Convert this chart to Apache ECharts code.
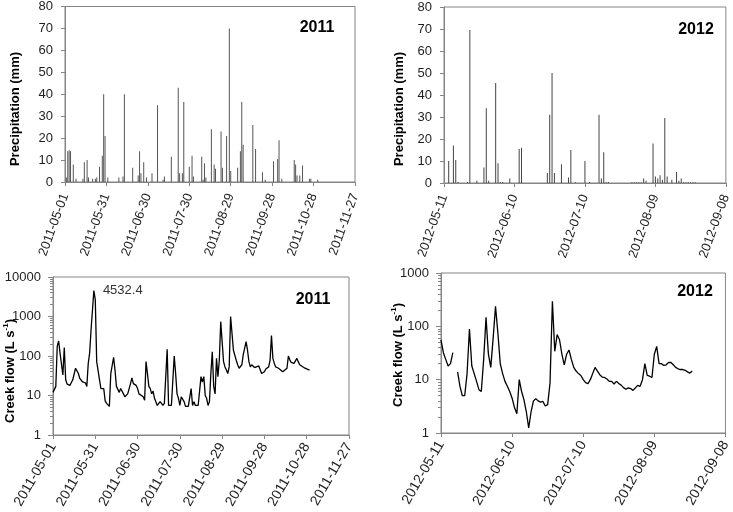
<!DOCTYPE html>
<html><head><meta charset="utf-8">
<script src="https://cdn.jsdelivr.net/npm/echarts@6/dist/echarts.min.js"></script>
<style>html,body{margin:0;padding:0;background:#fff}#c{width:733px;height:512px}</style>
</head><body><div id="c"></div>
<script>
// ---- tick labels ----
const xTicks2011 = ['2011-05-01','2011-05-31','2011-06-30','2011-07-30','2011-08-29','2011-09-28','2011-10-28','2011-11-27'];
const xTicks2012 = ['2012-05-11','2012-06-10','2012-07-10','2012-08-09','2012-09-08'];

// ---- precipitation (days since 2011-05-01 / 2012-05-11, mm) ----
const precipDays2011 = [1,2,3,4,6,8,13,14,16,17,20,22,23,25,27,28,29,31,39,42,43,49,53,54,55,57,59,63,67,71,72,77,82,83,85,86,90,92,93,99,100,101,102,106,108,109,113,114,117,119,120,125,127,128,129,136,138,143,145,151,154,155,157,166,167,168,170,172,177,178,183];
const precipValues2011 = [2,14,14.5,14,8,1.5,1.5,9,10,2,1.5,1.5,2,7,12,40,21,2,2,2.5,40,6.5,3,14,4,9,2,4,35,1,2.5,11.5,43,4,4,36.5,7,12,2.5,11.5,1,8.5,2,24,8,6,23,6.5,21,70,5,6.5,14,36.5,17,26,15,4.5,1,9.5,10.5,19,1.5,10,8,3,3,7.5,1.5,1.5,1];

const precipDays2012 = [2,4,5,6,10,11,14,17,18,19,22,23,24,25,28,32,33,44,45,46,47,50,53,54,56,60,62,66,67,68,69,70,80,81,82,83,84,85,86,89,90,91,92,93,94,95,97,99,100,101,102,103,104,105,106,107];
const precipValues2012 = [10,17,10.5,0.5,0.5,69.5,1,7,34,1,45.5,9,0.5,0.5,2,15.5,16,4.5,31,50,4.5,8.5,2.5,15,0.3,10,0.5,31,2,14,0.5,0.5,0.3,0.3,0.3,0.3,0.3,2,1,18,3,2,3.5,1.5,29.5,3,1.5,5,1,2,0.3,0.3,0.3,0.3,0.3,0.3];

// ---- creek flow (L s-1) ----
const flowDays2011 = [0,1,2,3,4,5,6,7,8,9,10,12,14,15,16,18,19,21,23,24,25,26,27,29,30,31,32,33,34,35,36,37,38,40,41,43,44,45,47,48,50,51,53,55,56,57,59,60,61,62,64,65,66,67,68,69,70,71,72,74,76,77,78,79,81,82,83,84,86,87,88,89,90,91,93,94,96,97,98,99,100,101,103,104,105,106,107,108,109,110,111,112,113,114,115,116,117,118,119,120,121,122,123,124,125,126,127,128,130,131,132,134,135,136,137,138,139,140,141,143,144,146,147,148,150,151,153,154,155,156,157,158,160,161,163,164,166,167,168,169,171,172,173,174,175,176,178,179,180,181,182];
const flowValues2011 = [12,11,17,175,240,118,110,33,165,25,19.5,18,25,28,49,36,27,22,21,17,65,118,460,4532.4,2650,72,65,25,15,13.5,15,7.3,6.3,5.3,36,93,44,17,12,15,11,9.3,11,20,28,20,18,15,11,12,9.3,7.6,72,36,17,15,11,13,8.5,5.6,7,7.8,5.6,6.3,148,5.6,5.6,5.6,100,36,11,8.5,5.6,9.3,7,5.3,5.3,5,15,5.6,7,5.6,5.6,5.3,30,22,30,10,8.5,5.6,7,36,128,17,11,87,30,78,740,750,72,53,44,36,53,1000,950,140,78,60,49,60,110,120,230,140,72,53,60,51,53,56,51,36,40,47,53,78,330,87,65,53,49,44,40,42,49,100,80,69,65,60,87,72,60,58,51,51,47,51,44];

const flowDays2012 = [0,1,2,3,4,5,6,7,8,9,10,11,12,13,14,15,16,17,18,19,20,21,22,23,24,25,26,27,28,29,30,31,32,33,34,35,36,37,38,39,40,41,42,43,44,45,46,47,48,49,50,51,52,53,54,55,56,57,58,59,60,61,62,63,64,65,66,67,68,69,70,71,72,73,74,75,76,77,78,79,80,81,82,83,84,85,86,87,88,89,90,91,92,93,94,95,96,97,98,99,100,101,102,103,104,105,106];
const flowValues2012 = [56,32,24,18,20,32,null,14,7.5,5,5,13,89,18,13,9.3,6.5,6,24,147,30,17,60,237,75,20,13,9.3,7.5,6,4.5,3,2.3,10,6,4.2,2.5,1.24,2.5,4,4.4,4,3.8,3.9,3.2,3.4,8.7,294,34,70,56,30,19,30,36,24,17,14.5,13,12,10,8.8,8.4,10,13,17,14.5,12.4,11.2,11,10.3,9.3,9.3,8.3,9.3,8.5,7.9,7.1,6.6,7,6.8,6.3,7,7.8,7.5,10,20,12,11.6,11,30,42,20,20,18.5,19,21,21,19,17,16,15.5,15.5,15,14,13.3,14.5];

// ---- build chart ----
const FONT = "'Liberation Sans', Arial, Helvetica, sans-serif";
const AX = '#858585';
const TXT = '#1f1f1f';
function pairs(days, vals) { return days.map((d, i) => [d, vals[i]]); }

function xAxis(gridIndex, max, ticks, rotate, fontSize, margin) {
  return {
    type: 'value', gridIndex, min: 0, max, interval: 30,
    axisLine: { show: true, onZero: false, lineStyle: { color: AX, width: 1 } },
    axisTick: { show: true, inside: false, length: 4, lineStyle: { color: AX } },
    splitLine: { show: false },
    axisLabel: { rotate, margin, fontSize, fontFamily: FONT, color: TXT,
      showMinLabel: true, showMaxLabel: true,
      formatter: v => ticks[Math.round(v / 30)] || '' }
  };
}
function yPrecip(gridIndex) {
  return {
    type: 'value', gridIndex, min: 0, max: 80, interval: 10,
    axisLine: { show: true, lineStyle: { color: AX, width: 1 } },
    axisTick: { show: true, inside: false, length: 4, lineStyle: { color: AX } },
    splitLine: { show: false },
    axisLabel: { margin: 12, fontSize: 13, fontFamily: FONT, color: TXT }
  };
}
function yFlow(gridIndex, max) {
  return {
    type: 'log', logBase: 10, gridIndex, min: 1, max,
    axisLine: { show: true, lineStyle: { color: AX, width: 1 } },
    axisTick: { show: true, inside: false, length: 5, lineStyle: { color: AX } },
    minorTick: { show: true, splitNumber: 9, length: 3, lineStyle: { color: AX } },
    splitLine: { show: false }, minorSplitLine: { show: false },
    axisLabel: { margin: 12, fontSize: 13, fontFamily: FONT, color: TXT, formatter: v => String(v) }
  };
}
function gridBox(left, top, width, height) {
  return { left, top, width, height, show: true, borderColor: AX, borderWidth: 1, backgroundColor: 'transparent', containLabel: false };
}
function yearText(x, y, t) {
  return { type: 'text', x, y, style: { text: t, font: 'bold 16px ' + FONT, fill: '#000', align: 'center', verticalAlign: 'middle' } };
}
function axisTitle(x, y, rich) {
  return { type: 'text', x, y, rotation: Math.PI / 2,
    style: rich };
}
const precipTitle = { text: 'Precipitation (mm)', font: 'bold 13px ' + FONT, fill: '#000', align: 'center', verticalAlign: 'middle' };
const flowTitle = {
  text: '{a|Creek flow (L s}{b|-1}{a|)}', align: 'center', verticalAlign: 'middle',
  rich: {
    a: { fontSize: 13, fontWeight: 'bold', fontFamily: FONT, fill: '#000', color: '#000', lineHeight: 16 },
    b: { fontSize: 8, fontWeight: 'bold', fontFamily: FONT, fill: '#000', color: '#000', lineHeight: 16, verticalAlign: 'top', padding: [0, 0, 6, 0] }
  }
};

const chart = echarts.init(document.getElementById('c'), null, { renderer: 'canvas' });
chart.setOption({
  animation: false,
  backgroundColor: '#fff',
  grid: [
    gridBox(65, 5, 290, 177),
    gridBox(444, 7, 286, 176),
    gridBox(53, 277, 296, 158),
    gridBox(441, 273, 285, 160)
  ],
  xAxis: [
    xAxis(0, 210, xTicks2011, 70, 13, 12),
    xAxis(1, 120, xTicks2012, 70, 13, 12),
    xAxis(2, 210, xTicks2011, 60, 14, 9),
    xAxis(3, 120, xTicks2012, 60, 14, 9)
  ],
  yAxis: [yPrecip(0), yPrecip(1), yFlow(2, 10000), yFlow(3, 1000)],
  series: [
    { type: 'bar', xAxisIndex: 0, yAxisIndex: 0, barWidth: 1, itemStyle: { color: '#555' }, data: pairs(precipDays2011, precipValues2011) },
    { type: 'bar', xAxisIndex: 1, yAxisIndex: 1, barWidth: 1, itemStyle: { color: '#444' }, data: pairs(precipDays2012, precipValues2012) },
    { type: 'line', xAxisIndex: 2, yAxisIndex: 2, showSymbol: false, symbol: 'none', connectNulls: false,
      lineStyle: { color: '#000', width: 1.3 }, data: pairs(flowDays2011, flowValues2011),
      markPoint: { symbol: 'circle', symbolSize: 2, itemStyle: { color: 'rgba(0,0,0,0)' },
        data: [{ type: 'max' }],
        label: { show: true, position: 'right', distance: 8, formatter: '{c}', color: '#333', fontSize: 13, fontFamily: FONT } } },
    { type: 'line', xAxisIndex: 3, yAxisIndex: 3, showSymbol: false, symbol: 'none', connectNulls: false,
      lineStyle: { color: '#000', width: 1.3 }, data: pairs(flowDays2012, flowValues2012) }
  ],
  graphic: [
    yearText(317, 28, '2011'),
    yearText(696, 30, '2012'),
    yearText(313, 300, '2011'),
    yearText(695, 292, '2012'),
    axisTitle(15, 109, precipTitle),
    axisTitle(399, 109, precipTitle),
    axisTitle(10, 371, flowTitle),
    axisTitle(398, 355, flowTitle)
  ]
});
</script></body></html>
